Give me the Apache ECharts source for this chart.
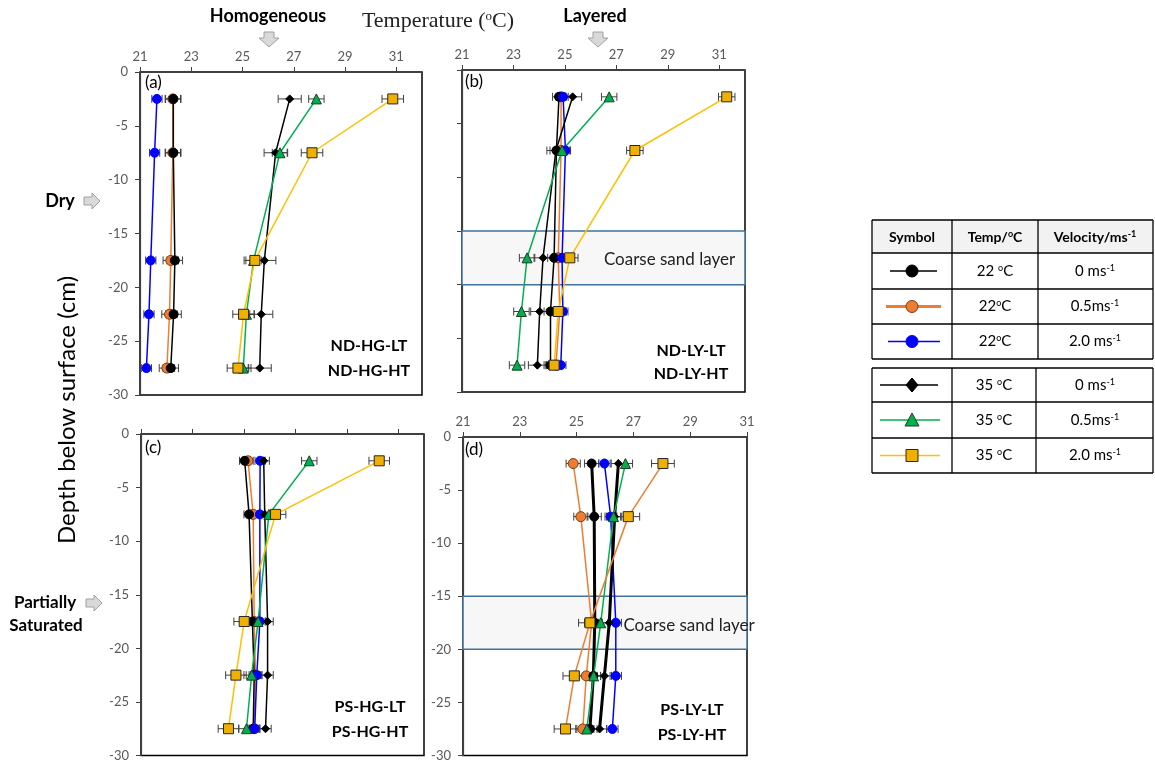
<!DOCTYPE html>
<html>
<head>
<meta charset="utf-8">
<script src="https://cdn.jsdelivr.net/npm/echarts@6/dist/echarts.min.js"></script>
<style>
  html, body { margin: 0; padding: 0; background: #fff; }
  #chart { width: 1155px; height: 762px; }
</style>
</head>
<body>
<div id="chart"></div>
<script>
// depths of the sensors (cm below surface)
const depths = [-2.5, -7.5, -17.5, -22.5, -27.5];
const tempTicks = [21, 23, 25, 27, 29, 31];

// (a) ND-HG
const a22v0 = [22.30, 22.30, 22.36, 22.31, 22.20];
const a22v05 = [22.28, 22.28, 22.20, 22.15, 22.05];
const a22v2 = [21.66, 21.57, 21.42, 21.35, 21.25];
const a35v0 = [26.84, 26.29, 25.85, 25.73, 25.67];
const a35v05 = [27.88, 26.46, 25.43, 25.15, 25.03];
const a35v2 = [30.86, 27.71, 25.48, 25.04, 24.82];
const errA = [0.30, 0.30, 0.20, 0.45, 0.30, 0.42];

// (b) ND-LY
const b22v0 = [24.77, 24.67, 24.58, 24.44, 24.44];
const b22v05 = [24.85, 24.85, 24.74, 24.80, 24.65];
const b22v2 = [24.93, 25.02, 24.89, 24.92, 24.84];
const b35v0 = [25.30, 24.65, 24.15, 24.02, 23.93];
const b35v05 = [26.72, 24.89, 23.53, 23.31, 23.14];
const b35v2 = [31.29, 27.72, 25.19, 24.74, 24.58];
const errB = [0.25, 0.20, 0.20, 0.35, 0.30, 0.32];

// (c) PS-HG
const c22v0 = [25.03, 25.20, 25.33, 25.40, 25.36];
const c22v05 = [25.16, 25.36, 25.40, 25.45, 25.40];
const c22v2 = [25.63, 25.62, 25.62, 25.50, 25.42];
const c35v0 = [25.77, 25.81, 25.92, 25.92, 25.84];
const c35v05 = [27.54, 25.97, 25.55, 25.30, 25.10];
const c35v2 = [30.26, 26.23, 25.01, 24.69, 24.40];
const errC = [0.20, 0.20, 0.20, 0.22, 0.30, 0.40];

// (d) PS-LY
const d22v0 = [25.53, 25.62, 25.64, 25.59, 25.47];
const d22v05 = [24.88, 25.15, 25.53, 25.34, 25.22];
const d22v2 = [25.98, 26.20, 26.38, 26.38, 26.26];
const d35v0 = [26.47, 26.34, 26.15, 25.98, 25.81];
const d35v05 = [26.72, 26.30, 25.85, 25.60, 25.36];
const d35v2 = [28.04, 26.82, 25.47, 24.92, 24.61];
const errD = [0.25, 0.25, 0.20, 0.25, 0.25, 0.40];

const chartDom = document.getElementById('chart');
const myChart = echarts.init(chartDom);

const black = '#000000', orange = '#ed7d31', blue = '#0000ff', green = '#00b050', yellow = '#ffc000';

// draw order: orange first so the black circles sit on top
const styles = [
  { line: orange, symbol: 'circle', size: 10, fill: orange, border: '#7a3b10' },
  { line: black, symbol: 'circle', size: 9, fill: black, border: black },
  { line: blue, symbol: 'circle', size: 9, fill: blue, border: blue },
  { line: black, symbol: 'diamond', size: 8, fill: black, border: black },
  { line: green, symbol: 'triangle', size: 10, fill: green, border: '#1d3d1d' },
  { line: yellow, symbol: 'rect', size: 10, fill: '#f0b000', border: '#262626' }
];

const panels = [
  { temps: [a22v05, a22v0, a22v2, a35v0, a35v05, a35v2], err: [errA[1], errA[0], errA[2], errA[3], errA[4], errA[5]], max: 32, xLabels: true, yLabels: true },
  { temps: [b22v05, b22v0, b22v2, b35v0, b35v05, b35v2], err: [errB[1], errB[0], errB[2], errB[3], errB[4], errB[5]], max: 32, xLabels: true, yLabels: false, sand: [66, 2] },
  { temps: [c22v05, c22v0, c22v2, c35v0, c35v05, c35v2], err: [errC[1], errC[0], errC[2], errC[3], errC[4], errC[5]], max: 32, xLabels: false, yLabels: true },
  { temps: [d22v05, d22v0, d22v2, d35v0, d35v05, d35v2], err: [errD[1], errD[0], errD[2], errD[3], errD[4], errD[5]], max: 31, xLabels: true, yLabels: true, sand: [84, 3], thick: true }
];

const grids = [
  { left: 140, top: 72, width: 282, height: 323 },
  { left: 462, top: 70, width: 283, height: 322 },
  { left: 141, top: 434, width: 283, height: 325 },
  { left: 463, top: 437, width: 284, height: 324 }
].map(g => Object.assign(g, { show: true, borderColor: '#000', borderWidth: 1.5 }));

const labelFont = { color: '#595959', fontSize: 13, fontFamily: 'Lato' };

const xAxes = panels.map((p, i) => ({
  type: 'value', gridIndex: i, position: 'top', min: 21, max: p.max,
  axisLine: { show: true, onZero: false, lineStyle: { color: '#404040', width: 1.2 } },
  axisTick: { show: true, inside: false, length: 5, customValues: tempTicks, lineStyle: { color: '#404040' } },
  axisLabel: Object.assign({ show: p.xLabels, margin: 9, customValues: tempTicks }, labelFont),
  splitLine: { show: false }
}));

const yAxes = panels.map((p, i) => ({
  type: 'value', gridIndex: i, min: -30, max: 0, interval: 5,
  axisLine: { show: true, onZero: false, lineStyle: { color: '#404040', width: 1.2 } },
  axisTick: { show: true, inside: false, length: 5, lineStyle: { color: '#404040' } },
  axisLabel: Object.assign({ show: p.yLabels, margin: 12 }, labelFont),
  splitLine: { show: false }
}));

function renderErr(params, api) {
  const x = api.value(0), y = api.value(1), e = api.value(2);
  const p1 = api.coord([x - e, y]);
  const p2 = api.coord([x + e, y]);
  const h = 4;
  const st = { stroke: '#404040', lineWidth: 1 };
  return {
    type: 'group',
    children: [
      { type: 'line', shape: { x1: p1[0], y1: p1[1], x2: p2[0], y2: p2[1] }, style: st },
      { type: 'line', shape: { x1: p1[0], y1: p1[1] - h, x2: p1[0], y2: p1[1] + h }, style: st },
      { type: 'line', shape: { x1: p2[0], y1: p2[1] - h, x2: p2[0], y2: p2[1] + h }, style: st }
    ]
  };
}

const series = [];
panels.forEach((p, i) => {
  if (p.sand) {
    series.push({
      type: 'line', xAxisIndex: i, yAxisIndex: i, data: [], z: 1, silent: true,
      markArea: {
        silent: true,
        itemStyle: { color: '#f7f7f7', borderColor: '#41719c', borderWidth: 1.5 },
        label: { show: true, position: 'inside', offset: p.sand, color: '#222', fontSize: 17, fontFamily: 'Lato' },
        data: [[{ yAxis: -15, name: 'Coarse sand layer' }, { yAxis: -20 }]]
      }
    });
  }
  const errData = [];
  p.temps.forEach((arr, s) => {
    arr.forEach((t, k) => errData.push([t, depths[k], p.err[s]]));
  });
  series.push({
    type: 'custom', xAxisIndex: i, yAxisIndex: i, z: 2, silent: true,
    renderItem: renderErr, encode: { x: 0, y: 1 }, data: errData
  });
  p.temps.forEach((arr, s) => {
    const st = styles[s];
    let lineColor = st.line;
    let width = 1.5;
    if (p.thick && st.line === black) width = 3;
    if (p.thick && s === 5) lineColor = orange;
    series.push({
      type: 'line', xAxisIndex: i, yAxisIndex: i, z: 3,
      data: arr.map((t, k) => [t, depths[k]]),
      symbol: st.symbol, symbolSize: st.size, showSymbol: true, showAllSymbol: true,
      lineStyle: { color: lineColor, width: width },
      itemStyle: { color: st.fill, borderColor: st.border, borderWidth: 1 }
    });
  });
});

// ---------- text and decorations ----------
const graphic = [];
function txt(x, y, text, opt) {
  graphic.push({
    type: 'text', x: x, y: y, rotation: opt.rotation || 0, z: 10,
    style: Object.assign({ text: text, fill: '#000', textAlign: 'center', textVerticalAlign: 'middle', fontFamily: 'Lato', fontSize: 16 }, opt.style || {})
  });
}
const arrowStyle = { fill: '#d9d9d9', stroke: '#a0a0a0', lineWidth: 1 };
function downArrow(cx, top) {
  graphic.push({ type: 'polygon', z: 10, shape: { points: [[cx - 5, top], [cx + 5, top], [cx + 5, top + 6], [cx + 10, top + 6], [cx, top + 15], [cx - 10, top + 6], [cx - 5, top + 6]] }, style: arrowStyle });
}
function rightArrow(x0, cy) {
  graphic.push({ type: 'polygon', z: 10, shape: { points: [[x0, cy - 4], [x0 + 8, cy - 4], [x0 + 8, cy - 8], [x0 + 16, cy], [x0 + 8, cy + 8], [x0 + 8, cy + 4], [x0, cy + 4]] }, style: arrowStyle });
}

txt(268, 16, 'Homogeneous', { style: { fontWeight: 'bold', fontSize: 18 } });
downArrow(269, 32);
txt(595, 16, 'Layered', { style: { fontWeight: 'bold', fontSize: 18 } });
downArrow(598, 32);
txt(438, 21, 'Temperature ({s|o}C)', { style: { fontFamily: 'Liberation Serif', fontSize: 22, fill: '#222', rich: { s: { fontFamily: 'Liberation Serif', fontSize: 13, verticalAlign: 'top', fill: '#222' } } } });

txt(60, 201, 'Dry', { style: { fontWeight: 'bold', fontSize: 18 } });
rightArrow(84, 201);
txt(45, 603, 'Partially', { style: { fontWeight: 'bold', fontSize: 17 } });
txt(46, 626, 'Saturated', { style: { fontWeight: 'bold', fontSize: 17 } });
rightArrow(86, 603);
txt(67, 410, 'Depth below surface (cm)', { rotation: Math.PI / 2, style: { fontSize: 24 } });

txt(145, 83, '(a)', { style: { textAlign: 'left', fontSize: 17 } });
txt(465, 82, '(b)', { style: { textAlign: 'left', fontSize: 17 } });
txt(145, 448, '(c)', { style: { textAlign: 'left', fontSize: 17 } });
txt(465, 450, '(d)', { style: { textAlign: 'left', fontSize: 17 } });

const bold16 = { style: { fontWeight: 'bold', fontSize: 16 } };
txt(369, 346, 'ND-HG-LT', bold16);
txt(369, 371, 'ND-HG-HT', bold16);
txt(691, 351, 'ND-LY-LT', bold16);
txt(691, 374, 'ND-LY-HT', bold16);
txt(370, 707, 'PS-HG-LT', bold16);
txt(370, 732, 'PS-HG-HT', bold16);
txt(692, 710, 'PS-LY-LT', bold16);
txt(692, 735, 'PS-LY-HT', bold16);

// ---------- legend table ----------
const tableStroke = { stroke: '#000', lineWidth: 1.3 };
function hline(x1, x2, y) { graphic.push({ type: 'line', z: 10, shape: { x1: x1, y1: y, x2: x2, y2: y }, style: tableStroke }); }
function vline(x, y1, y2) { graphic.push({ type: 'line', z: 10, shape: { x1: x, y1: y1, x2: x, y2: y2 }, style: tableStroke }); }

graphic.push({ type: 'rect', z: 9, shape: { x: 872, y: 220, width: 281, height: 33 }, style: { fill: '#f2f2f2' } });
[220, 253, 289, 324, 359].forEach(y => hline(872, 1153, y));
[872, 952, 1038, 1153].forEach(x => vline(x, 220, 359));
[368, 402, 438, 473].forEach(y => hline(872, 1153, y));
[872, 952, 1036, 1153].forEach(x => vline(x, 368, 473));

const rich = {
  s: { fontSize: 9, verticalAlign: 'top', fontFamily: 'Lato', fill: '#000' },
  b: { fontSize: 9, verticalAlign: 'top', fontFamily: 'Lato', fontWeight: 'bold', fill: '#000' }
};
txt(912, 237, 'Symbol', { style: { fontWeight: 'bold', fontSize: 14 } });
txt(995, 237, 'Temp/{b|o}C', { style: { fontWeight: 'bold', fontSize: 14, rich: rich } });
txt(1095, 237, 'Velocity/ms{b|-1}', { style: { fontWeight: 'bold', fontSize: 14, rich: rich } });

const legendRows = [
  { y: 271, temp: '22 {s|o}C', vel: '0 ms{s|-1}', st: styles[1], tx: 995, lw: 1.5, x1: 890, x2: 937 },
  { y: 306.5, temp: '22{s|o}C', vel: '0.5ms{s|-1}', st: styles[0], tx: 995, lw: 3, x1: 886, x2: 941 },
  { y: 341.5, temp: '22{s|o}C', vel: '2.0 ms{s|-1}', st: styles[2], tx: 995, lw: 1.5, x1: 888, x2: 940 },
  { y: 385, temp: '35 {s|o}C', vel: '0 ms{s|-1}', st: styles[3], tx: 994, lw: 1.5, x1: 880, x2: 938 },
  { y: 420, temp: '35 {s|o}C', vel: '0.5ms{s|-1}', st: styles[4], tx: 994, lw: 1.5, x1: 880, x2: 940 },
  { y: 455.5, temp: '35 {s|o}C', vel: '2.0 ms{s|-1}', st: styles[5], tx: 994, lw: 1.5, x1: 880, x2: 940 }
];
legendRows.forEach(r => {
  const cx = 912, cy = r.y, st = r.st;
  graphic.push({ type: 'line', z: 10, shape: { x1: r.x1, y1: cy, x2: r.x2, y2: cy }, style: { stroke: st.line, lineWidth: r.lw } });
  const ms = { fill: st.fill, stroke: st.border, lineWidth: 1 };
  if (st.symbol === 'circle') {
    graphic.push({ type: 'circle', z: 11, shape: { cx: cx, cy: cy, r: 6 }, style: ms });
  } else if (st.symbol === 'diamond') {
    graphic.push({ type: 'polygon', z: 11, shape: { points: [[cx, cy - 7], [cx + 6, cy], [cx, cy + 7], [cx - 6, cy]] }, style: ms });
  } else if (st.symbol === 'triangle') {
    graphic.push({ type: 'polygon', z: 11, shape: { points: [[cx, cy - 7], [cx + 7, cy + 6], [cx - 7, cy + 6]] }, style: ms });
  } else {
    graphic.push({ type: 'rect', z: 11, shape: { x: cx - 6, y: cy - 6, width: 12, height: 12 }, style: ms });
  }
  txt(r.tx, cy, r.temp, { style: { fontSize: 15, rich: rich } });
  txt(1095, cy, r.vel, { style: { fontSize: 15, rich: rich } });
});

const option = {
  animation: false,
  backgroundColor: '#fff',
  grid: grids,
  xAxis: xAxes,
  yAxis: yAxes,
  series: series,
  graphic: graphic
};
myChart.setOption(option);
</script>
</body>
</html>
